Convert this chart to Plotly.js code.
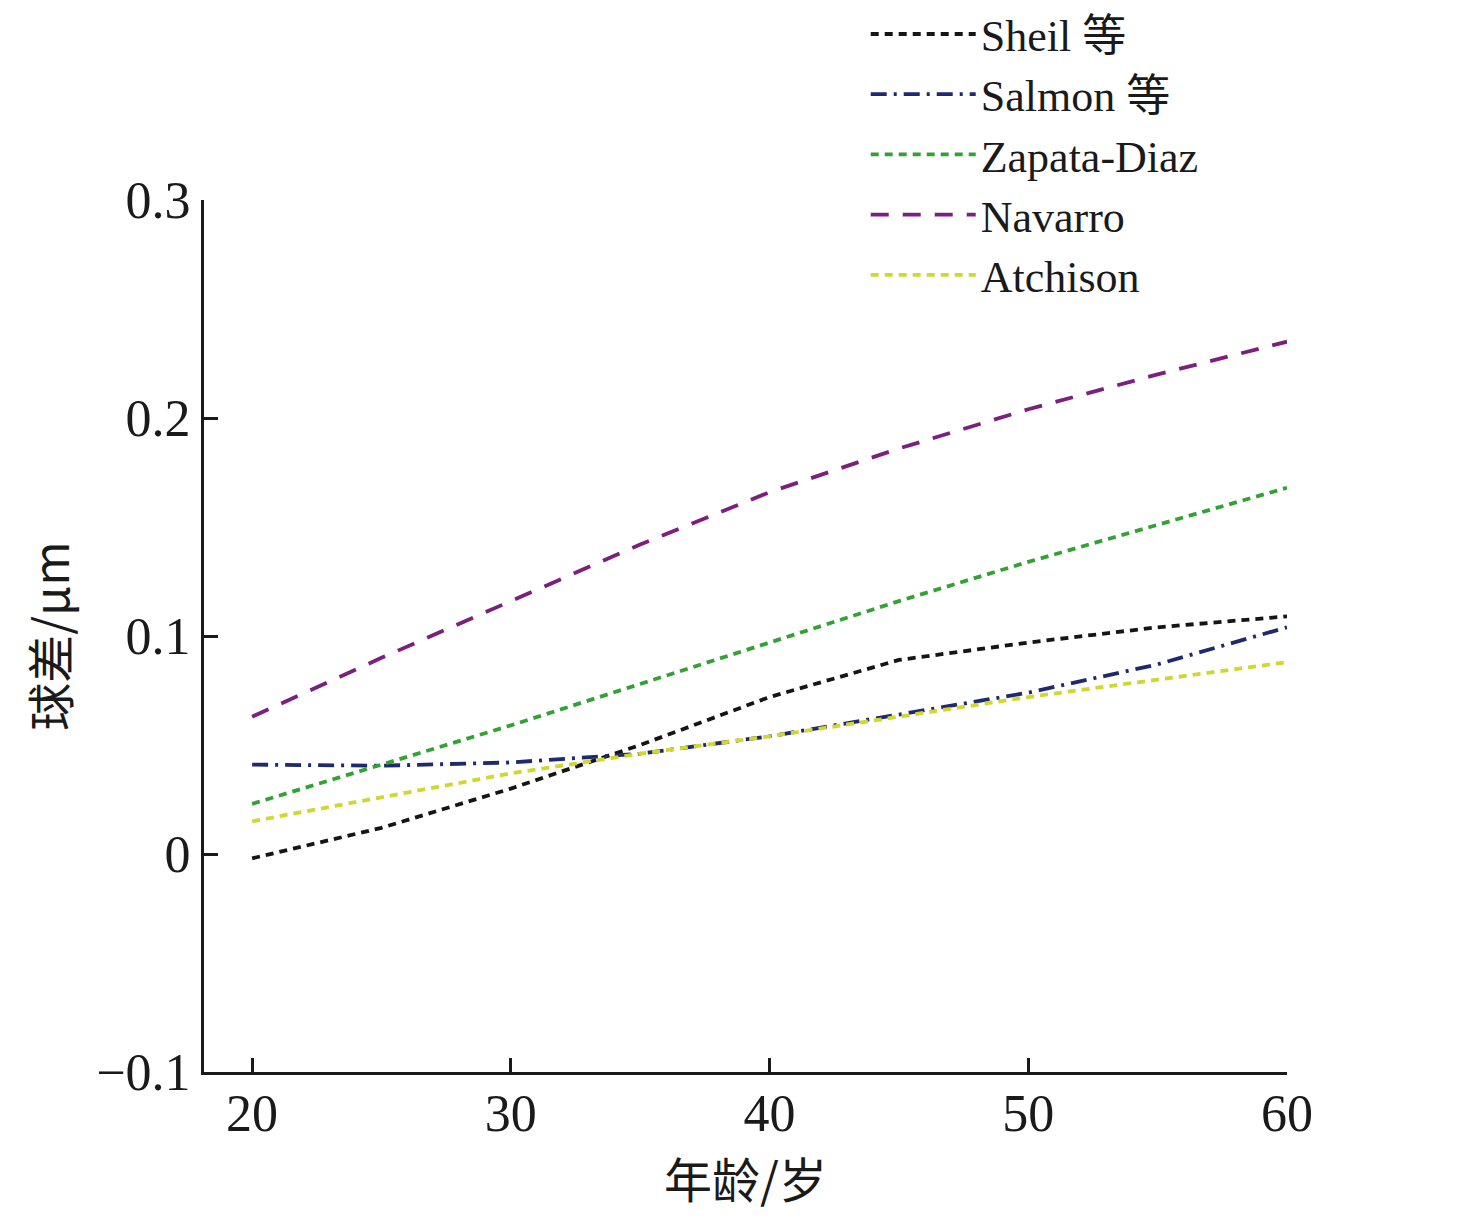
<!DOCTYPE html>
<html>
<head>
<meta charset="utf-8">
<script src="https://cdn.plot.ly/plotly-3.0.1.min.js"></script>
<style>html,body{margin:0;padding:0;background:#fff;}#chart{width:1476px;height:1218px;}</style>
</head>
<body>
<div id="chart"></div>
<script>
const ages = [20, 25, 30, 35, 40, 45, 50, 55, 60];
const seriesNames = ["Sheil 等", "Salmon 等", "Zapata-Diaz", "Navarro", "Atchison"];
const sheil    = [-0.002, 0.012, 0.030, 0.050, 0.072, 0.089, 0.097, 0.104, 0.109];
const salmon   = [0.041, 0.0405, 0.042, 0.046, 0.054, 0.064, 0.074, 0.087, 0.104];
const zapata   = [0.023, 0.041, 0.059, 0.078, 0.097, 0.116, 0.134, 0.151, 0.168];
const navarro  = [0.063, 0.090, 0.116, 0.142, 0.166, 0.186, 0.204, 0.220, 0.235];
const atchison = [0.015, 0.026, 0.037, 0.046, 0.054, 0.063, 0.072, 0.080, 0.088];
const yTicks = [-0.1, 0, 0.1, 0.2, 0.3];
const yTickText = ["\u22120.1", "0", "0.1", "0.2", "0.3"];
const xTicks = [20, 30, 40, 50, 60];

const colors = ["#151515", "#1f2a6e", "#35a035", "#7c1f7e", "#d2d62e"];
const dashes = ["8px,6px", "16px,7px,3px,7px", "8px,6px", "18px,14px", "8px,6px"];
const values = [sheil, salmon, zapata, navarro, atchison];

const serif = "Liberation Serif, Times New Roman, Noto Sans CJK SC, serif";
const traces = values.map((v, i) => ({
  type: "scatter", mode: "lines", x: ages, y: v, name: seriesNames[i],
  line: {color: colors[i], width: 3.8, dash: dashes[i]}
}));

const layout = {
  width: 1476, height: 1218,
  margin: {l: 204, r: 189, t: 200, b: 146, autoexpand: false},
  paper_bgcolor: "#fff", plot_bgcolor: "#fff",
  font: {family: serif, color: "#1a1a1a", size: 52},
  showlegend: true,
  legend: {
    x: 0.611, y: 1.2306, xanchor: "left", yanchor: "top",
    font: {family: serif, size: 44, color: "#1a1a1a"},
    itemwidth: 105, bgcolor: "rgba(0,0,0,0)", tracegroupgap: 0
  },
  xaxis: {
    range: [18.14, 60], tickvals: xTicks, ticktext: xTicks.map(String),
    ticks: "inside", ticklen: 14, tickwidth: 3, tickcolor: "#1a1a1a",
    showline: true, linecolor: "#1a1a1a", linewidth: 3,
    showgrid: false, zeroline: false, ticklabelstandoff: -6,
    tickfont: {family: serif, size: 52, color: "#1a1a1a"},
    title: {text: "年龄/岁", font: {family: "Noto Sans CJK SC, sans-serif", size: 48, color: "#1a1a1a"}, standoff: 0}
  },
  yaxis: {
    range: [-0.1, 0.3], tickvals: yTicks, ticktext: yTickText,
    ticks: "inside", ticklen: 14, tickwidth: 3, tickcolor: "#1a1a1a",
    showline: true, linecolor: "#1a1a1a", linewidth: 3,
    showgrid: false, zeroline: false,
    tickfont: {family: serif, size: 52, color: "#1a1a1a"},
    title: {text: "球差/μm", font: {family: "Noto Sans CJK SC, sans-serif", size: 48, color: "#1a1a1a"}, standoff: 12}
  }
};

Plotly.newPlot("chart", traces, layout, {staticPlot: true, displayModeBar: false});
</script>
</body>
</html>
